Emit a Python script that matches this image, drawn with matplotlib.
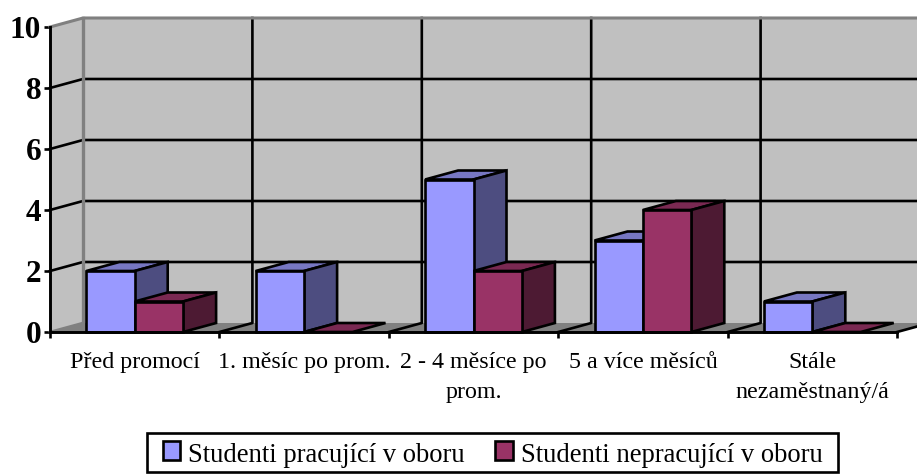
# 3D-look column chart (Excel style) drawn on a plain 2D axes
import matplotlib
matplotlib.use("Agg")
from matplotlib import pyplot as plt
from matplotlib.patches import Patch, Rectangle
from matplotlib.legend_handler import HandlerPatch

categories = ["Před promocí", "1. měsíc po prom.", "2 - 4 měsíce po\nprom.",
              "5 a více měsíců", "Stále\nnezaměstnaný/á"]
series_names = ["Studenti pracující v oboru", "Studenti nepracující v oboru"]
pracujici = [2, 2, 5, 3, 1]
nepracujici = [1, 0, 2, 4, 0]
y_ticks = [0, 2, 4, 6, 8, 10]

# colours: front, side, top
blue = ("#9999FF", "#4D4D80", "#7777C2")
red = ("#993366", "#4D1A33", "#7A2952")

plt.rcParams["font.family"] = ["Liberation Serif", "DejaVu Serif"]

W, H = 917, 475
fig = plt.figure(figsize=(W / 100, H / 100), dpi=100)
# axes = front plane of the chart, in pixels 50..897 / 27..332
ax = fig.add_axes([50 / W, 1 - 332 / H, (897 - 50) / W, (332 - 27) / H])
ax.set_xlim(0, len(categories))
ax.set_ylim(0, 10)
ax.patch.set_visible(False)

# depth of the fake 3D, in data units
dx = 33 / ((897 - 50) / len(categories))
dy = 9 / ((332 - 27) / 10)
n = len(categories)
lw = 1.9


def poly(xs, ys, color, edge="black", z=2, width=lw):
    ax.fill(xs, ys, facecolor=color, edgecolor=edge, linewidth=width,
            zorder=z, clip_on=False, joinstyle="miter")


# walls and floor
poly([dx, n + dx, n + dx, dx], [dy, dy, 10 + dy, 10 + dy], "#C0C0C0", edge="none", z=1)
poly([0, dx, dx, 0], [0, dy, 10 + dy, 10], "#C0C0C0", edge="none", z=1)
poly([0, n, n + dx, dx], [0, 0, dy, dy], "#808080", edge="none", z=1)

# grid
for v in y_ticks[1:-1]:
    ax.plot([0, dx, n + dx], [v, v + dy, v + dy], color="black", lw=lw, zorder=1.5, clip_on=False)
for i in range(1, n + 1):
    ax.plot([i, i + dx, i + dx], [0, dy, 10 + dy], color="black", lw=lw, zorder=1.5, clip_on=False)
ax.plot([0, dx, n + dx], [10, 10 + dy, 10 + dy], color="#808080", lw=lw + 0.3, zorder=1.6, clip_on=False)
ax.plot([dx, dx], [dy, 10 + dy], color="#808080", lw=lw + 0.5, zorder=1.6, clip_on=False)
ax.plot([0, dx], [0, dy], color="#808080", lw=lw, zorder=1.6, clip_on=False)

# bars: gap 150 %, so bar width is 1 / 3.5 of a category
bar_w = 1 / 3.5
gap = 0.75 * bar_w
for i in range(n):
    for k, (vals, cols) in enumerate([(pracujici, blue), (nepracujici, red)]):
        v = vals[i]
        x0 = i + gap + k * bar_w
        x1 = x0 + bar_w
        poly([x0, x1, x1 + dx, x0 + dx], [v, v, v + dy, v + dy], cols[2], z=3)
        if v > 0:
            poly([x1, x1 + dx, x1 + dx, x1], [0, dy, v + dy, v], cols[1], z=3)
            poly([x0, x1, x1, x0], [0, 0, v, v], cols[0], z=3)

# axes
for s in ["top", "right"]:
    ax.spines[s].set_visible(False)
for s in ["left", "bottom"]:
    ax.spines[s].set_linewidth(lw + 0.2)
    ax.spines[s].set_zorder(4)
ax.set_yticks(y_ticks)
ax.set_yticklabels([str(v) for v in y_ticks], fontsize=22.5, fontweight="bold")
ax.set_xticks(range(n + 1))
ax.set_xticklabels([""] * (n + 1))
ax.set_xticks([i + 0.5 for i in range(n)], minor=True)
ax.set_xticklabels(categories, minor=True, fontsize=17.3, linespacing=1.55, va="top")
ax.tick_params(axis="both", which="major", length=4.3, width=lw, pad=2)
ax.tick_params(axis="x", which="minor", length=0, pad=14.7)

# legend: box drawn by hand, the legend's own one can't have uneven padding
fig.add_artist(Rectangle((147 / W, 1 - 471.5 / H), 691 / W, 39 / H, transform=fig.transFigure,
                         facecolor="white", edgecolor="black", linewidth=lw))
handles = [Patch(facecolor=blue[0], edgecolor="black", linewidth=lw),
           Patch(facecolor=red[0], edgecolor="black", linewidth=lw)]
leg = fig.legend(handles, series_names, loc="center", bbox_to_anchor=(489 / W, 1 - 452 / H),
                 ncol=2, fontsize=19.2, frameon=False,
                 handlelength=0.92, handleheight=0.55, handletextpad=0.3, columnspacing=0.87,
                 borderpad=0.3, borderaxespad=0,
                 handler_map={Patch: HandlerPatch(xpad=0.27, ypad=-0.12)})
# text sits a bit lower in the box than the default
for t in leg.get_texts():
    t.set_y(-3)

plt.savefig("out.png", dpi=100)
